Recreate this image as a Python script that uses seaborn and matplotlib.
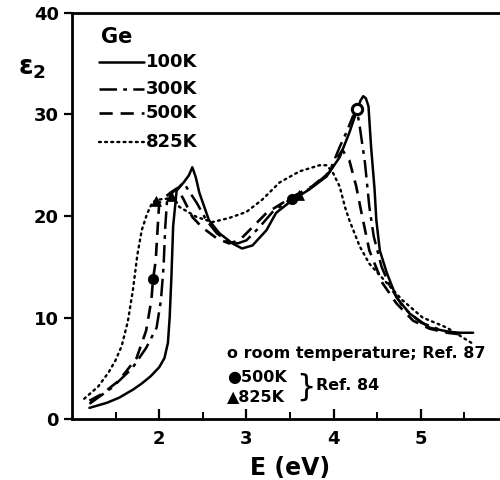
import matplotlib
matplotlib.use("Agg")
import matplotlib.pyplot as plt
import seaborn as sns
import pandas as pd

# ---- data ----
x_100 = [1.20, 1.40, 1.54, 1.70, 1.80, 1.90, 2.00, 2.06, 2.10, 2.12, 2.14, 2.16, 2.20, 2.28, 2.34, 2.38,
         2.42, 2.46, 2.57, 2.69, 2.84, 2.95, 3.07, 3.23, 3.34, 3.53, 3.72, 3.92, 4.07, 4.18, 4.26, 4.31,
         4.34, 4.37, 4.40, 4.43, 4.47, 4.49, 4.53, 4.61, 4.72, 4.87, 5.10, 5.37, 5.60]
y_100 = [1.1, 1.6, 2.1, 2.9, 3.5, 4.2, 5.1, 6.0, 7.5, 10.0, 14.0, 19.0, 22.5, 23.3, 24.0, 24.8,
         23.8, 22.3, 19.6, 18.3, 17.3, 16.8, 17.1, 18.6, 20.3, 21.6, 22.6, 23.9, 25.8, 28.2, 30.2, 31.4,
         31.8, 31.6, 30.8, 26.8, 22.6, 19.6, 16.6, 14.4, 12.0, 10.4, 9.0, 8.5, 8.5]

x_300 = [1.20, 1.46, 1.69, 1.85, 1.97, 2.02, 2.05, 2.07, 2.09, 2.15, 2.22, 2.28, 2.33, 2.43, 2.54, 2.66,
         2.77, 2.90, 3.00, 3.15, 3.30, 3.53, 3.75, 3.95, 4.07, 4.15, 4.22, 4.27, 4.30, 4.36, 4.41, 4.46,
         4.55, 4.65, 4.80, 5.00, 5.25, 5.50]
y_300 = [1.5, 3.1, 5.0, 7.0, 9.0, 11.7, 15.0, 19.0, 21.5, 22.3, 22.8, 23.3, 22.6, 21.3, 19.6, 18.3,
         17.6, 17.3, 17.6, 18.9, 20.4, 21.8, 22.8, 24.3, 26.8, 28.3, 29.8, 30.3, 28.8, 25.2, 20.9, 18.0,
         15.0, 13.0, 11.0, 9.5, 8.7, 8.4]

x_500 = [1.20, 1.35, 1.54, 1.74, 1.85, 1.91, 1.93, 1.96, 1.98, 2.00, 2.06, 2.13, 2.20, 2.27, 2.38, 2.49,
         2.66, 2.80, 2.92, 3.07, 3.23, 3.53, 3.75, 3.95, 4.05, 4.10, 4.18, 4.26, 4.32, 4.41, 4.56, 4.72,
         4.91, 5.10, 5.30, 5.50]
y_500 = [1.8, 2.5, 3.8, 6.0, 8.7, 11.7, 13.8, 15.6, 18.5, 21.3, 21.8, 22.3, 22.7, 21.8, 19.9, 18.9,
         17.8, 17.3, 17.6, 18.9, 20.3, 21.9, 22.9, 24.3, 25.8, 26.5, 25.5, 22.9, 20.3, 16.6, 13.4, 11.4,
         9.7, 8.9, 8.5, 8.3]

x_825 = [1.14, 1.30, 1.42, 1.50, 1.57, 1.64, 1.70, 1.75, 1.80, 1.86, 1.92, 1.97, 2.08, 2.17, 2.23, 2.43,
         2.61, 2.80, 3.00, 3.18, 3.38, 3.61, 3.84, 3.92, 3.99, 4.07, 4.13, 4.18, 4.30, 4.41, 4.61, 4.79,
         5.02, 5.30, 5.60]
y_825 = [2.0, 3.2, 4.6, 5.8, 7.2, 9.6, 12.8, 16.2, 18.6, 20.2, 21.3, 21.6, 21.7, 21.8, 20.9, 19.9,
         19.4, 19.8, 20.4, 21.6, 23.3, 24.4, 25.0, 25.0, 24.3, 22.9, 20.9, 19.6, 17.0, 15.3, 13.4, 11.7,
         10.0, 9.0, 7.4]

series_labels = ["100K", "300K", "500K", "825K"]

# reference points
room_x = [4.27]
room_y = [30.5]
k500_x = [1.93, 3.52]
k500_y = [13.8, 21.7]
k825_x = [1.96, 2.13, 3.60]
k825_y = [21.5, 22.0, 22.1]

x_ticks = [2, 3, 4, 5]
x_minor = [1.5, 2.5, 3.5, 4.5, 5.5]
y_ticks = [0, 10, 20, 30, 40]

# ---- plotting ----
sns.set_style("white")
plt.rcParams['font.family'] = ['DejaVu Sans']
plt.rcParams.update({"text.color": "black", "axes.labelcolor": "black",
                     "xtick.color": "black", "ytick.color": "black",
                     "axes.edgecolor": "black"})

fig = plt.figure(figsize=(5.0, 4.8), dpi=100)
ax = fig.add_axes([0.144, 0.127, 0.872, 0.846])

styles = {
    "100K": dict(linestyle="-", lw=1.8),
    "300K": dict(linestyle=(0, (7, 2.5, 1.5, 2.5)), lw=1.8),
    "500K": dict(linestyle=(0, (5, 3)), lw=1.9),
    "825K": dict(linestyle=(0, (0.8, 1.8)), lw=1.7, dash_capstyle="round"),
}
data = {"100K": (x_100, y_100), "300K": (x_300, y_300),
        "500K": (x_500, y_500), "825K": (x_825, y_825)}

for lab in series_labels:
    xs, ys = data[lab]
    df = pd.DataFrame({"E": xs, "eps2": ys})
    sns.lineplot(data=df, x="E", y="eps2", ax=ax, color="black", sort=False,
                 estimator=None, **styles[lab])

# reference markers
sns.scatterplot(x=room_x, y=room_y, ax=ax, marker="o", s=55, facecolor="white",
                edgecolor="black", linewidth=2.2, zorder=5)
sns.scatterplot(x=k500_x, y=k500_y, ax=ax, marker="o", s=55, color="black",
                edgecolor="black", zorder=5)
sns.scatterplot(x=k825_x, y=k825_y, ax=ax, marker="^", s=50, color="black",
                edgecolor="black", zorder=5)

ax.set_xlim(1, 6)
ax.set_ylim(0, 40)
ax.set_xticks(x_ticks)
ax.set_xticks(x_minor, minor=True)
ax.set_yticks(y_ticks)
ax.set_yticklabels(["0", "10", "20", "30", "40"])
ax.set_xticklabels([str(t) for t in x_ticks])
ax.tick_params(axis="x", which="major", direction="in", length=7, width=1.6,
               labelsize=13, pad=8, bottom=True, colors="black")
ax.tick_params(axis="x", which="minor", direction="in", length=5, width=1.4, bottom=True,
               colors="black")
ax.tick_params(axis="y", which="major", direction="out", length=6, width=1.6,
               labelsize=13, left=True, colors="black")
for t in ax.get_xticklabels() + ax.get_yticklabels():
    t.set_fontweight("bold")
for s in ax.spines.values():
    s.set_linewidth(2.0)
    s.set_color("black")

ax.set_xlabel("E (eV)", fontsize=17, fontweight="bold", labelpad=6, color="black")
ax.set_ylabel("")
fig.text(0.035, 0.845, r"$\mathbf{\varepsilon}_{\mathbf{2}}$", fontsize=19,
         fontweight="bold", color="black")

# legend drawn as text + line samples in data space
ax.text(1.33, 37.6, "Ge", fontsize=15, fontweight="bold", va="center", ha="left")
leg_y = [35.2, 32.5, 30.1, 27.3]
for lab, yy in zip(series_labels, leg_y):
    st = dict(styles[lab])
    ax.plot([1.31, 1.82], [yy, yy], color="black", **st)
    ax.text(1.85, yy, lab, fontsize=13, fontweight="bold", va="center", ha="left")

# reference notes
ax.text(2.78, 6.5, "o room temperature; Ref. 87", fontsize=11.5, fontweight="bold",
        va="center", ha="left")
ax.text(2.78, 4.1, "\u25cf500K", fontsize=11.5, fontweight="bold", va="center", ha="left")
ax.text(2.78, 2.2, "\u25b2825K", fontsize=11.5, fontweight="bold", va="center", ha="left")
ax.text(3.57, 3.1, "}", fontsize=22, va="center", ha="left")
ax.text(3.80, 3.3, "Ref. 84", fontsize=11.5, fontweight="bold", va="center", ha="left")

fig.savefig("out.png", dpi=100)
